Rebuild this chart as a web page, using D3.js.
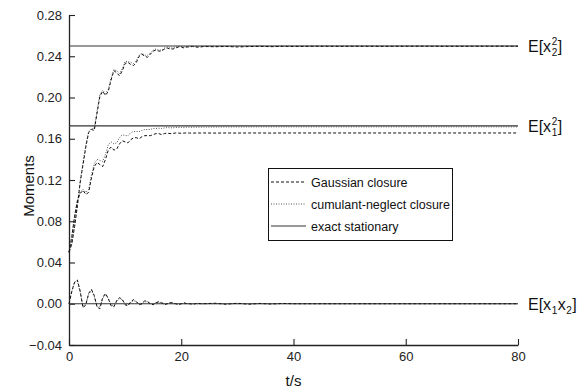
<!DOCTYPE html>
<html><head><meta charset="utf-8">
<script src="https://cdn.jsdelivr.net/npm/d3@7"></script>
<style>
html,body{margin:0;padding:0;background:#fff;}
svg{display:block;font-family:"Liberation Sans",Arial,sans-serif;}
</style></head>
<body><svg id="chart" width="585" height="390"></svg>
<script>
// time axis (s)
const t = [0,0.5,1,1.5,2,2.5,3,3.5,4,4.5,5,5.5,6,6.5,7,7.5,8,8.5,9,9.5,10,10.5,11,11.5,12,12.5,13,13.5,14,14.5,15,15.5,16,16.5,17,17.5,18,18.5,19,19.5,20,20.5,21,21.5,22,22.5,23,23.5,24,26,28,30,32,34,36,38,40,44,48,52,56,60,64,68,72,76,80];

// Gaussian closure
const x2sqGauss = [0.050,0.058,0.075,0.095,0.118,0.135,0.152,0.166,0.169,0.168,0.185,0.201,0.206,0.202,0.206,0.217,0.226,0.224,0.221,0.226,0.233,0.234,0.232,0.231,0.234,0.240,0.242,0.240,0.239,0.242,0.245,0.246,0.245,0.245,0.247,0.248,0.247,0.247,0.248,0.249,0.249,0.248,0.249,0.249,0.2495,0.249,0.2488,0.249,0.2495,
  0.2492,0.2495,0.249,0.2494,0.2496,0.2493,0.2496,0.2495,0.2497,0.2496,0.2497,0.2496,0.2497,0.2497,0.2496,0.2497,0.2497,0.2497];
const x1sqGauss = [0.050,0.065,0.085,0.100,0.107,0.110,0.106,0.108,0.122,0.133,0.137,0.135,0.133,0.140,0.149,0.152,0.149,0.150,0.155,0.158,0.157,0.156,0.159,0.161,0.161,0.160,0.162,0.163,0.163,0.163,0.164,0.165,0.165,0.164,0.165,0.1655,0.165,0.1652,0.1656,0.1655,0.1653,0.1655,0.1657,0.1655,0.1654,0.1656,0.1656,0.1655,0.1656,
  0.1655,0.1656,0.1655,0.1656,0.1656,0.1655,0.1656,0.1656,0.1656,0.1656,0.1656,0.1656,0.1656,0.1656,0.1656,0.1656,0.1656,0.1656];
const x1x2Gauss = [0.000,0.012,0.021,0.023,0.012,-0.004,-0.001,0.010,0.014,0.008,-0.003,-0.005,0.006,0.010,0.005,-0.002,-0.003,0.003,0.006,0.004,-0.001,-0.002,0.002,0.004,0.002,-0.001,0.000,0.003,0.002,0.000,-0.001,0.001,0.002,0.001,-0.001,0.000,0.001,0.001,0.000,-0.001,0.000,0.001,0.000,0.000,-0.0005,0.000,0.0005,0.000,0.000,
  0.0005,-0.0005,0.0005,-0.0005,0.0003,-0.0003,0.0003,0,0,0,0,0,0,0,0,0,0,0];

// cumulant-neglect closure
const x2sqCum = [0.050,0.058,0.076,0.096,0.119,0.137,0.154,0.167,0.170,0.170,0.187,0.203,0.207,0.204,0.208,0.219,0.227,0.226,0.223,0.228,0.235,0.235,0.234,0.233,0.236,0.241,0.243,0.241,0.241,0.243,0.246,0.247,0.246,0.246,0.248,0.249,0.248,0.248,0.249,0.2495,0.2495,0.249,0.2495,0.2497,0.2498,0.2496,0.2495,0.2497,0.2499,
  0.2498,0.2499,0.2498,0.2499,0.25,0.2499,0.25,0.25,0.25,0.25,0.25,0.25,0.25,0.25,0.25,0.25,0.25,0.25];
const x1sqCum = [0.050,0.065,0.085,0.100,0.108,0.111,0.108,0.111,0.125,0.136,0.140,0.139,0.138,0.145,0.154,0.157,0.155,0.156,0.161,0.164,0.163,0.163,0.166,0.167,0.167,0.167,0.168,0.169,0.169,0.169,0.170,0.170,0.1702,0.1700,0.1705,0.1708,0.1706,0.1706,0.1710,0.1710,0.1709,0.1710,0.1712,0.1711,0.1711,0.1712,0.1712,0.1712,0.1713,
  0.1713,0.1714,0.1714,0.1714,0.1715,0.1715,0.1715,0.1715,0.1715,0.1715,0.1715,0.1715,0.1715,0.1715,0.1715,0.1715,0.1715,0.1715];
const x1x2Cum = [0.000,0.012,0.021,0.022,0.011,-0.003,0.000,0.009,0.013,0.007,-0.003,-0.003,0.005,0.009,0.005,-0.001,-0.002,0.002,0.005,0.004,0.000,-0.001,0.001,0.003,0.002,0.000,0.000,0.002,0.002,0.000,0.000,0.001,0.001,0.001,0.000,0.000,0.001,0.000,0.000,0.000,0.000,0.000,0.000,0.000,0.000,0.000,0.000,0.000,0.000,
  0,0,0,0,0,0,0,0,0,0,0,0,0,0,0,0,0,0];

// exact stationary values
const exactNames = ["x2sq","x1sq","x1x2"];
const exactValues = [0.25, 0.1725, 0.0];

const xTicks = [0,20,40,60,80];
const xMinor = [10,30,50,70];
const yTicks = [-0.04,0.00,0.04,0.08,0.12,0.16,0.20,0.24,0.28];
const yMinor = [-0.02,0.02,0.06,0.10,0.14,0.18,0.22,0.26];
const legendLabels = ["Gaussian closure","cumulant-neglect closure","exact stationary"];

const svg = d3.select("#chart");
const x = d3.scaleLinear().domain([0,80]).range([69,518]);
const y = d3.scaleLinear().domain([-0.04,0.28]).range([345,15]);
const axisColor = "#222";

// axes
const gx = svg.append("g").attr("transform","translate(0,345)");
gx.call(d3.axisBottom(x).tickValues(xMinor).tickSizeInner(-3.5).tickSizeOuter(0).tickFormat(""));
gx.call(d3.axisBottom(x).tickValues(xTicks).tickSizeInner(-6).tickSizeOuter(0).tickPadding(7).tickFormat(d3.format("d")));
const gy = svg.append("g").attr("transform","translate(69,0)");
gy.call(d3.axisLeft(y).tickValues(yMinor).tickSizeInner(-3.5).tickSizeOuter(0).tickFormat(""));
gy.call(d3.axisLeft(y).tickValues(yTicks).tickSizeInner(-6).tickSizeOuter(0).tickPadding(7).tickFormat(d3.format(".2f")));
svg.selectAll(".domain").attr("stroke",axisColor).attr("stroke-width",1.3);
svg.selectAll(".tick line").attr("stroke",axisColor).attr("stroke-width",1.1);
svg.selectAll(".tick text").attr("font-size",13).attr("fill","#222").attr("font-family","Liberation Sans, Arial, sans-serif");

// exact lines
svg.append("g").selectAll("line").data(exactValues).join("line")
  .attr("x1",x(0)).attr("x2",x(80)).attr("y1",d=>y(d)).attr("y2",d=>y(d))
  .attr("stroke","#333").attr("stroke-width",1.1);

const line = d3.line().x((d,i)=>x(t[i])).y(d=>y(d));
const cumSeries = [x2sqCum, x1sqCum, x1x2Cum];
const gaussSeries = [x2sqGauss, x1sqGauss, x1x2Gauss];
svg.append("g").selectAll("path").data(cumSeries).join("path")
  .attr("d",line).attr("fill","none").attr("stroke","#555").attr("stroke-width",1)
  .attr("stroke-dasharray","1,1.5");
svg.append("g").selectAll("path").data(gaussSeries).join("path")
  .attr("d",line).attr("fill","none").attr("stroke","#111").attr("stroke-width",1)
  .attr("stroke-dasharray","3,2");

// right labels
function rightLabel(yv, parts){
  const g = svg.append("g").attr("transform",`translate(528,${y(yv)+6})`);
  let cx = 0;
  parts.forEach(p=>{
    if(p.stack){
      const a = g.append("text").attr("x",cx+0.5).attr("y",-7).attr("font-size",10).attr("fill","#111").text(p.sup);
      const b = g.append("text").attr("x",cx+0.5).attr("y",4).attr("font-size",10).attr("fill","#111").text(p.sub);
      cx += Math.max(a.node().getComputedTextLength(), b.node().getComputedTextLength()) + 1;
    } else if(p.sub){
      const b = g.append("text").attr("x",cx+0.5).attr("y",4).attr("font-size",10).attr("fill","#111").text(p.sub);
      cx += b.node().getComputedTextLength() + 1;
    } else {
      const a = g.append("text").attr("x",cx).attr("y",0).attr("font-size",16).attr("fill","#111").text(p.txt);
      cx += a.node().getComputedTextLength();
    }
  });
}
rightLabel(exactValues[0], [{txt:"E[x"},{stack:true,sup:"2",sub:"2"},{txt:"]"}]);
rightLabel(exactValues[1], [{txt:"E[x"},{stack:true,sup:"2",sub:"1"},{txt:"]"}]);
rightLabel(exactValues[2], [{txt:"E[x"},{sub:"1"},{txt:"x"},{sub:"2"},{txt:"]"}]);

// axis titles
svg.append("text").attr("x",293.5).attr("y",386).attr("text-anchor","middle").attr("font-size",15).attr("fill","#111").text("t/s");
svg.append("text").attr("transform","translate(34,186) rotate(-90)").attr("text-anchor","middle").attr("font-size",15).attr("fill","#111").text("Moments");

// legend
const lg = svg.append("g");
lg.append("rect").attr("x",268.5).attr("y",168.5).attr("width",184).attr("height",72).attr("fill","#fff").attr("stroke","#111").attr("stroke-width",1);
const styles = [{c:"#111",d:"3,2"},{c:"#555",d:"1,1.5"},{c:"#333",d:null}];
legendLabels.forEach((lab,i)=>{
  const yy = 182 + i*22;
  lg.append("line").attr("x1",271).attr("x2",306).attr("y1",yy).attr("y2",yy)
    .attr("stroke",styles[i].c).attr("stroke-width",1).attr("stroke-dasharray",styles[i].d);
  lg.append("text").attr("x",311).attr("y",yy+5).attr("font-size",12.5).attr("fill","#111").text(lab);
});
</script></body></html>
